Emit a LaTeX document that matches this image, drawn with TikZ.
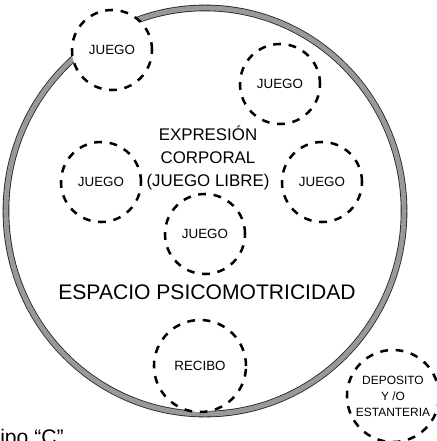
\documentclass[tikz,border=0pt]{standalone}
\usepackage{fontspec}
\setmainfont{Liberation Sans}

\begin{document}
\begin{tikzpicture}[x=0.025cm,y=-0.025cm,
    ring/.style={draw=black!85,line width=0.6pt,double=black!40,double distance=3.5pt},
    zone/.style={circle,draw,fill=white,line width=1.8pt,dash pattern=on 5.5pt off 5.5pt,
        minimum size=2cm,inner sep=0pt,align=center,font=\fontsize{9.5}{11}\selectfont}]
    \useasboundingbox (0,0) rectangle (436,441);
    \draw[ring] (205,211) ellipse [x radius=4.975cm, y radius=5.075cm];
    \node[zone] (juegoTL) at (112,50) {JUEGO};
    \node[zone] (juegoTR) at (280,84) {JUEGO};
    \node[zone] (juegoL) at (101,182) {JUEGO};
    \node[zone] (juegoR) at (322,182) {JUEGO};
    \node[zone] (juegoC) at (205,234) {JUEGO};
    \node[zone,minimum size=2.3cm] (recibo) at (200,366) {RECIBO};
    \node[zone,minimum size=2.3cm,font=\fontsize{8.5}{11.4}\selectfont] (deposito) at (393,396)
        {DEPOSITO\\Y /O\\ESTANTERIA};
    \node[align=center,font=\fontsize{12}{16.3}\selectfont] (expresion) at (208,158)
        {EXPRESIÓN\\CORPORAL\\(JUEGO LIBRE)};
    \node[font=\fontsize{15}{18}\selectfont] (espacio) at (207,292) {ESPACIO PSICOMOTRICIDAD};
    \node[anchor=north west,inner sep=0pt,font=\fontsize{15}{18}\selectfont] (tipo) at (0,429) {ipo “C”};
\end{tikzpicture}
\end{document}
